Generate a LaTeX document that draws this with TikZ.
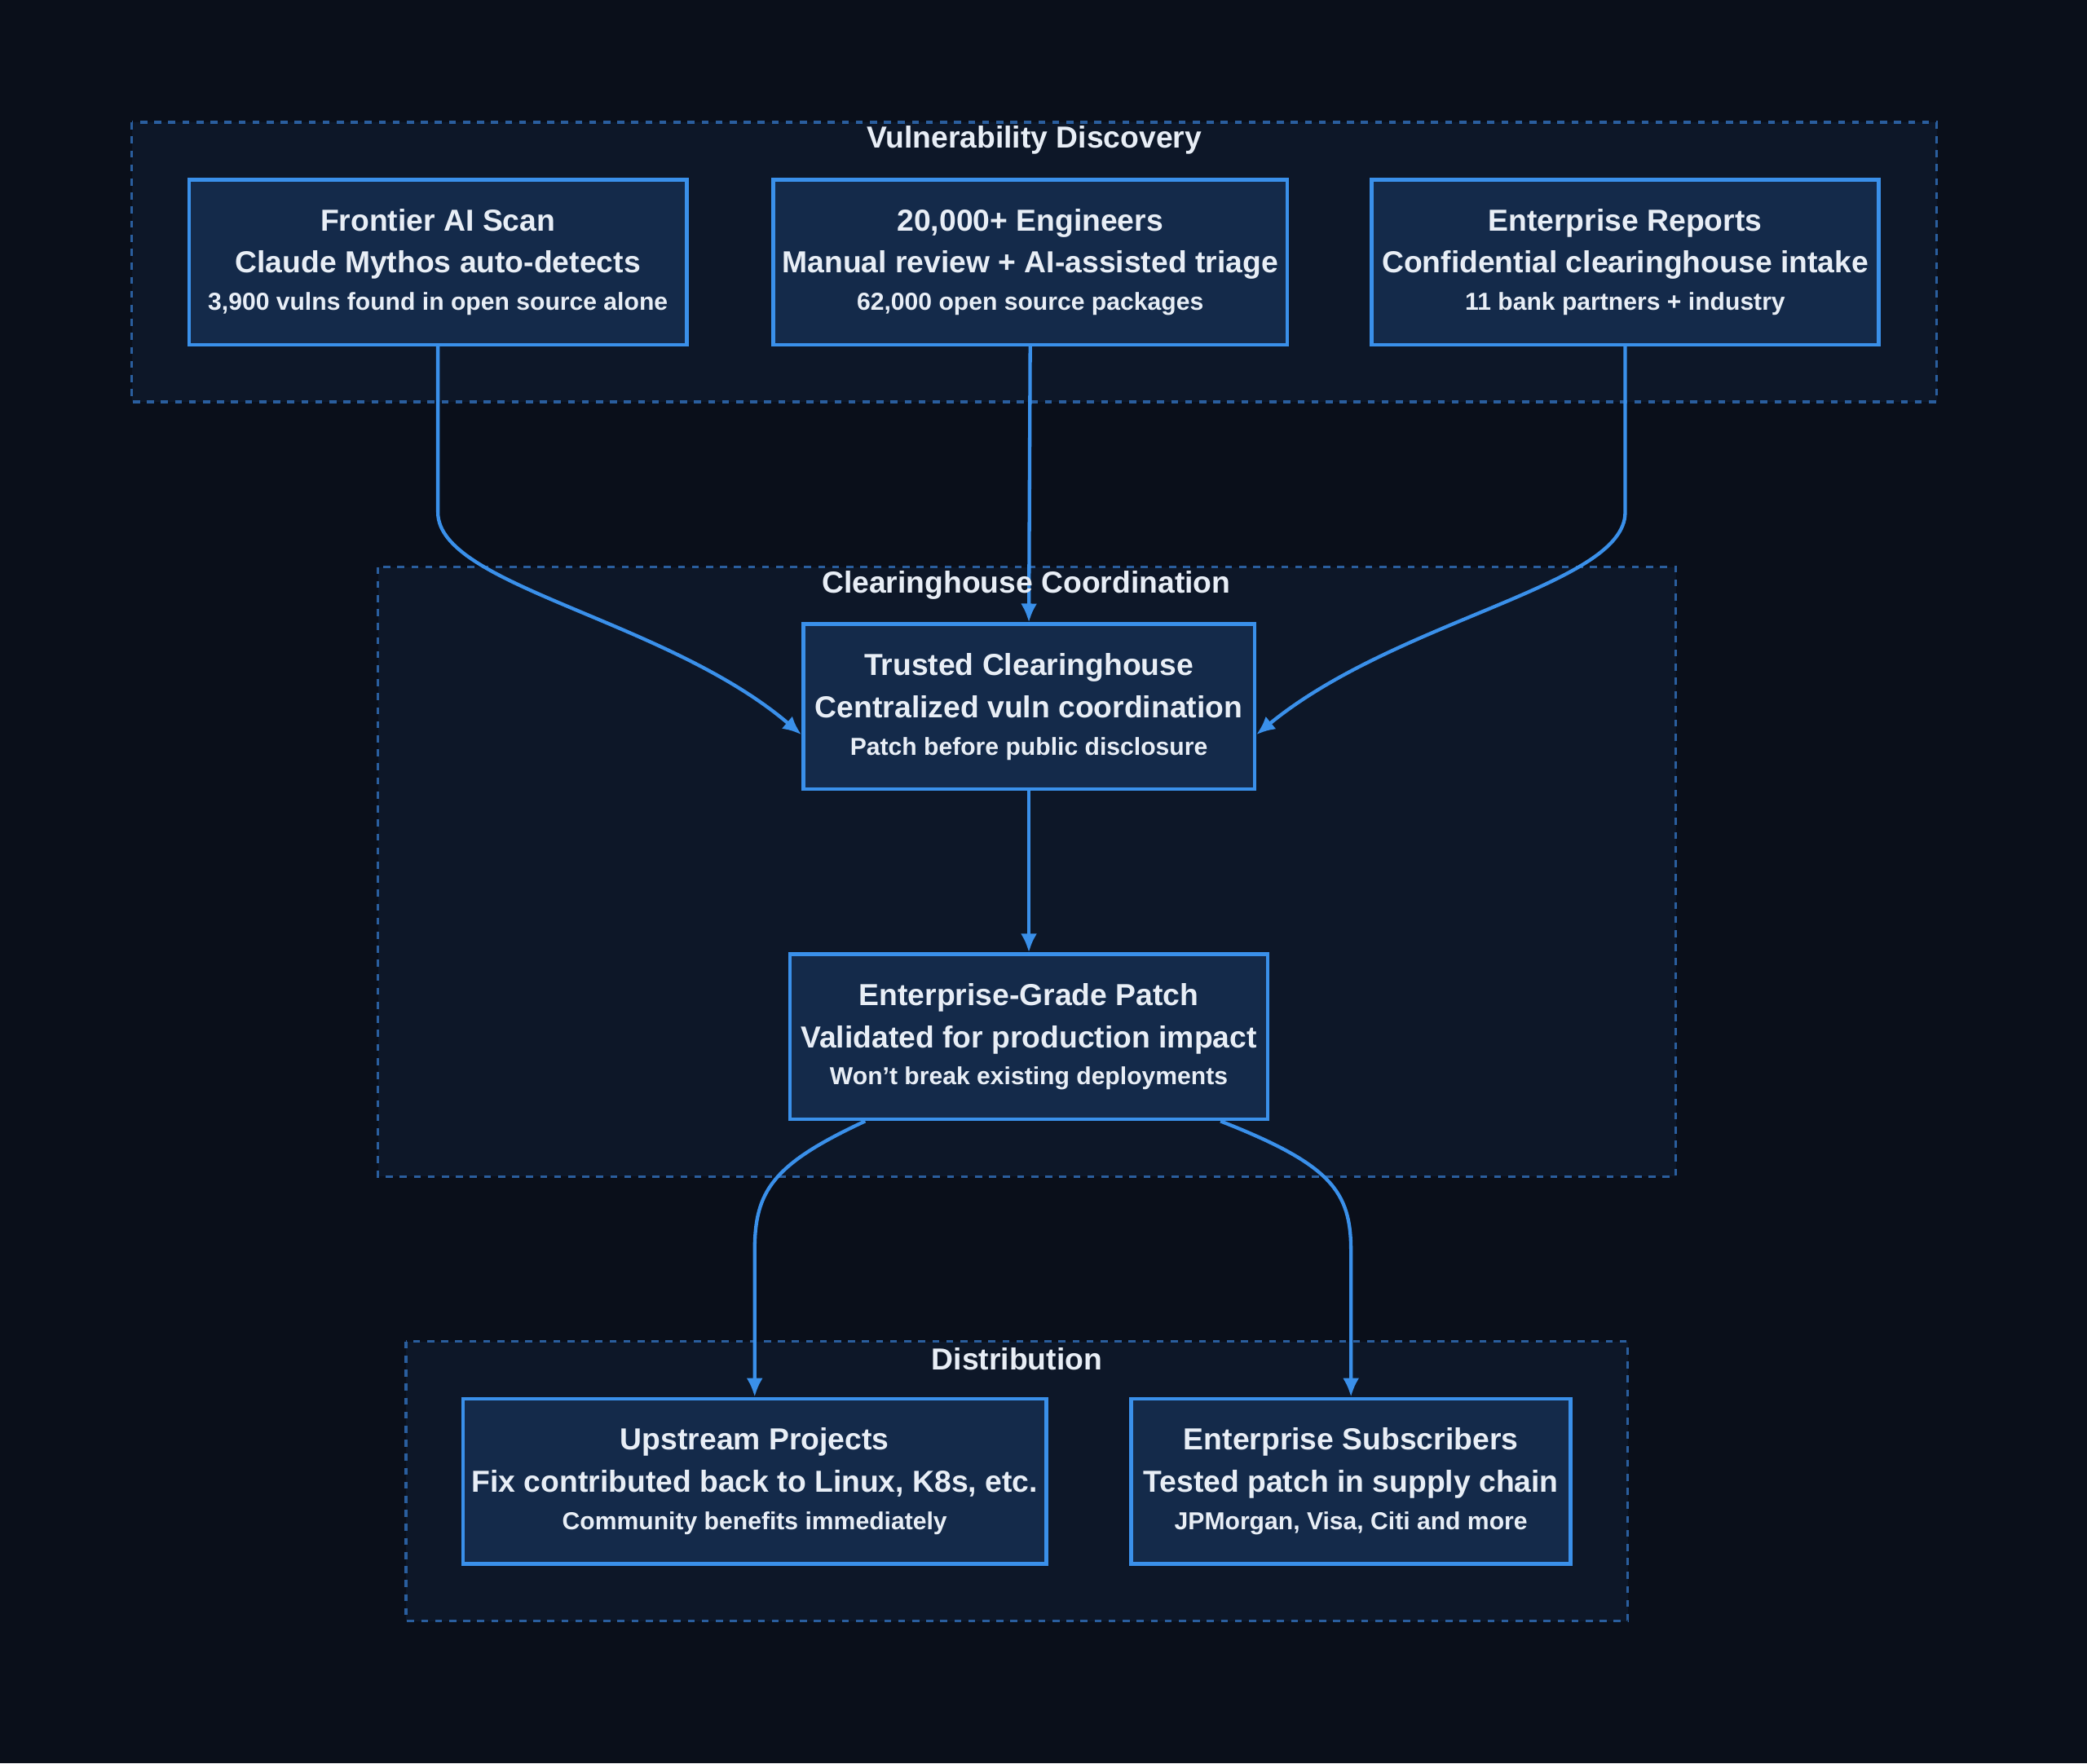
\documentclass[tikz,border=0pt]{standalone}
\usepackage{fontspec}
\setmainfont{Liberation Sans}
\usetikzlibrary{arrows.meta}
\definecolor{bgdark}{HTML}{0A0F1A}
\definecolor{groupfill}{HTML}{0D1728}
\definecolor{groupline}{HTML}{2A5E9E}
\definecolor{boxfill}{HTML}{142A4A}
\definecolor{boxline}{HTML}{3A90EA}
\definecolor{txt}{HTML}{E8EEF6}
\begin{document}
\begin{tikzpicture}[x=0.02cm,y=-0.02cm,
    group/.style={draw=groupline,fill=groupfill,dashed,line width=1.2pt},
    grouptitle/.style={text=txt,font=\bfseries\fontsize{13}{15}\selectfont},
    stepnode/.style={draw=boxline,fill=boxfill,line width=1.6pt,text=txt,align=center,
        inner sep=0pt,font=\bfseries\fontsize{13}{18}\selectfont},
    flow/.style={draw=boxline,line width=1.5pt,-{Latex[length=8pt,width=7pt]}}]
\useasboundingbox[fill=bgdark] (0,0) rectangle (1568,1325);

% groups
\draw[group] (99,92) rectangle (1455,302);
\node[grouptitle] (gdisc) at (777,105) {Vulnerability Discovery};
\draw[group] (284,426) rectangle (1259,884);
\draw[group] (305,1008) rectangle (1223,1218);
\node[grouptitle] (gdist) at (764,1021) {Distribution};

% steps
\newcommand{\stepbox}[7]{%
  \node[stepnode,minimum width=#4*0.02cm,minimum height=124*0.02cm] (#1) at (#2,#3)
    {#5\\#6\\[-2pt]{\fontsize{10.5}{13}\selectfont #7}};}
\stepbox{scan}{329}{197}{374}{Frontier AI Scan}{Claude Mythos auto-detects}{3,900 vulns found in open source alone}
\stepbox{engineers}{774}{197}{386}{20,000+ Engineers}{Manual review + AI-assisted triage}{62,000 open source packages}
\stepbox{reports}{1221}{197}{381}{Enterprise Reports}{Confidential clearinghouse intake}{11 bank partners + industry}
\stepbox{clearing}{773}{531}{339}{Trusted Clearinghouse}{Centralized vuln coordination}{Patch before public disclosure}
\stepbox{patch}{773}{779}{359}{Enterprise-Grade Patch}{Validated for production impact}{Won't break existing deployments}
\stepbox{upstream}{567}{1113}{438}{Upstream Projects}{Fix contributed back to Linux, K8s, etc.}{Community benefits immediately}
\stepbox{subs}{1015}{1113}{330}{Enterprise Subscribers}{Tested patch in supply chain}{JPMorgan, Visa, Citi and more}

% connectors
\draw[flow] (scan.south) -- (329,385) .. controls (329,440) and (500,465) .. ([yshift=-21*0.02cm]clearing.west);
\draw[flow] (engineers.south) -- (clearing.north);
\draw[flow] (reports.south) -- (1221,385) .. controls (1221,440) and (1050,465) .. ([yshift=-21*0.02cm]clearing.east);
\node[grouptitle] (gclear) at (771,440) {Clearinghouse Coordination};
\draw[flow] (clearing.south) -- (patch.north);
\draw[flow] ([xshift=-123*0.02cm]patch.south) .. controls (580,875) and (567,895) .. (567,940) -- (upstream.north);
\draw[flow] ([xshift=144*0.02cm]patch.south) .. controls (1000,875) and (1015,895) .. (1015,940) -- (subs.north);
\end{tikzpicture}
\end{document}
